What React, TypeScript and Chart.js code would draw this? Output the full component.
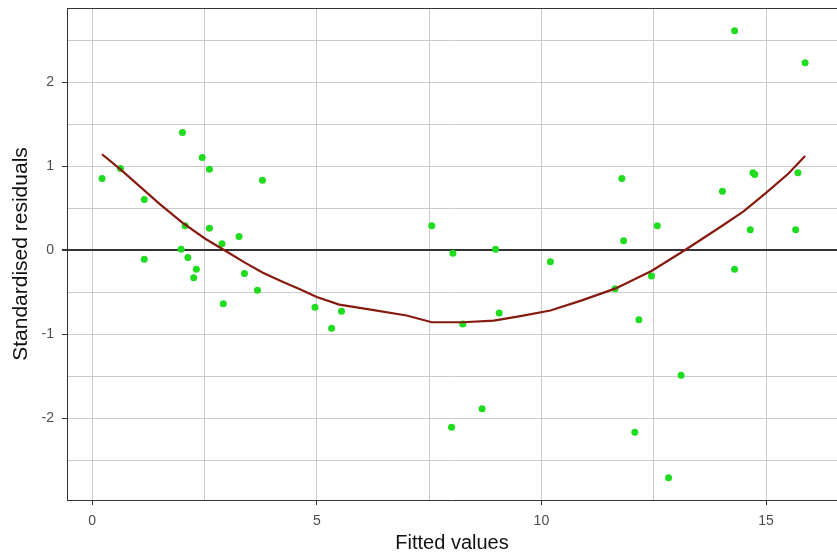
import React, { useEffect, useRef } from "react";
import { Chart, registerables } from "chart.js";

Chart.register(...registerables);

// Observed points: fitted values vs standardised residuals
const fittedX = [
  0.22, 0.63, 1.16, 1.16, 1.98, 2.01, 2.07, 2.13, 2.26, 2.32, 2.45, 2.61,
  2.61, 2.89, 2.92, 3.27, 3.39, 3.68, 3.79, 4.96, 5.33, 5.55, 7.56, 8.0,
  8.03, 8.25, 8.68, 8.98, 9.06, 10.2, 11.64, 11.79, 11.83, 12.08, 12.17,
  12.45, 12.58, 12.83, 13.11, 14.03, 14.3, 14.3, 14.65, 14.71, 14.75, 15.66,
  15.71, 15.87,
];
const stdResid = [
  0.85, 0.97, 0.6, -0.11, 0.01, 1.4, 0.29, -0.09, -0.33, -0.23, 1.1, 0.96,
  0.26, 0.075, -0.64, 0.16, -0.28, -0.48, 0.83, -0.68, -0.93, -0.73, 0.29,
  -2.11, -0.04, -0.88, -1.89, 0.01, -0.75, -0.14, -0.46, 0.85, 0.11, -2.17,
  -0.83, -0.31, 0.29, -2.71, -1.49, 0.7, 2.61, -0.23, 0.24, 0.92, 0.9, 0.24,
  0.92, 2.23,
];

// Smoother curve
const smoothX = [
  0.22, 0.63, 1.16, 1.5, 2.0, 2.5, 3.0, 3.4, 3.8, 4.2, 4.6, 5.0, 5.5, 6.2,
  7.0, 7.56, 8.25, 8.94, 9.5, 10.2, 10.9, 11.64, 12.45, 13.2, 14.0, 14.5,
  15.0, 15.5, 15.87,
];
const smoothY = [
  1.14, 0.96, 0.71, 0.55, 0.33, 0.14, -0.02, -0.15, -0.27, -0.37, -0.46,
  -0.56, -0.65, -0.71, -0.78, -0.86, -0.86, -0.84, -0.79, -0.72, -0.6, -0.46,
  -0.25, 0.0, 0.28, 0.46, 0.68, 0.91, 1.12,
];

const xMajorTicks = [0, 5, 10, 15];
const yMajorTicks = [-2, -1, 0, 1, 2];

const xTitle = "Fitted values";
const yTitle = "Standardised residuals";

export default function App() {
  const ref = useRef<HTMLCanvasElement | null>(null);

  useEffect(() => {
    document.body.style.margin = "0";
    document.body.style.overflow = "hidden";
    const canvas = ref.current;
    if (!canvas) return;

    const topBorder = {
      id: "topBorder",
      afterDraw(chart: any) {
        const { ctx, chartArea } = chart;
        ctx.save();
        ctx.strokeStyle = "#333333";
        ctx.lineWidth = 1;
        ctx.beginPath();
        ctx.moveTo(chartArea.left, chartArea.top + 0.5);
        ctx.lineTo(chart.width, chartArea.top + 0.5);
        ctx.stroke();
        ctx.restore();
      },
    };

    const chart = new Chart(canvas, {
      type: "scatter",
      data: {
        datasets: [
          {
            type: "line",
            data: smoothX.map((x, i) => ({ x, y: smoothY[i] })),
            borderColor: "#861a0e",
            borderWidth: 2.2,
            pointRadius: 0,
            tension: 0,
            fill: false,
          } as any,
          {
            data: fittedX.map((x, i) => ({ x, y: stdResid[i] })),
            backgroundColor: "#1fdc1f",
            borderWidth: 0,
            pointRadius: 3.5,
          },
        ],
      },
      options: {
        responsive: false,
        animation: false,
        layout: { padding: { top: 8, right: 0, left: 0, bottom: 0 } },
        plugins: {
          legend: { display: false },
          tooltip: { enabled: false },
        },
        scales: {
          x: {
            type: "linear",
            min: -0.56,
            max: 16.58,
            afterFit(scale: any) {
              scale.height = 55;
              scale.paddingLeft = 0;
              scale.paddingRight = 0;
            },
            ticks: {
              stepSize: 2.5,
              includeBounds: false,
              autoSkip: false,
              maxRotation: 0,
              padding: 8,
              color: "#4d4d4d",
              font: { family: "Liberation Sans, Arial, sans-serif", size: 14 },
              callback: (v: any) =>
                xMajorTicks.includes(Number(v)) ? String(v) : "",
            },
            grid: {
              color: "#cbcbcb",
              lineWidth: 1,
              tickLength: 5,
              tickColor: (ctx: any) =>
                ctx.tick && xMajorTicks.includes(ctx.tick.value)
                  ? "#333333"
                  : "rgba(0,0,0,0)",
            },
            border: { color: "#333333", width: 1 },
            title: {
              display: true,
              text: xTitle,
              color: "#111111",
              font: { family: "Liberation Sans, Arial, sans-serif", size: 20 },
              padding: { top: 0, bottom: 0 },
            },
          },
          y: {
            type: "linear",
            min: -2.976,
            max: 2.881,
            afterFit(scale: any) {
              scale.width = 67;
              scale.paddingTop = 0;
              scale.paddingBottom = 0;
            },
            ticks: {
              stepSize: 0.5,
              includeBounds: false,
              autoSkip: false,
              padding: 8,
              color: "#4d4d4d",
              font: { family: "Liberation Sans, Arial, sans-serif", size: 14 },
              callback: (v: any) =>
                yMajorTicks.includes(Number(v)) ? String(v) : "",
            },
            grid: {
              color: (ctx: any) =>
                ctx.tick && ctx.tick.value === 0 ? "#333333" : "#cbcbcb",
              lineWidth: (ctx: any) =>
                ctx.tick && ctx.tick.value === 0 ? 2 : 1,
              tickLength: 5,
              tickColor: (ctx: any) =>
                ctx.tick && yMajorTicks.includes(ctx.tick.value)
                  ? "#333333"
                  : "rgba(0,0,0,0)",
            },
            border: { color: "#333333", width: 1 },
            title: {
              display: true,
              text: yTitle,
              color: "#111111",
              font: { family: "Liberation Sans, Arial, sans-serif", size: 21 },
              padding: { top: 9, bottom: 0 },
            },
          },
        },
      },
      plugins: [topBorder],
    });

    return () => chart.destroy();
  }, []);

  return (
    <div style={{ width: 837, height: 555, overflow: "hidden" }}>
      <canvas ref={ref} width={841} height={555} style={{ display: "block" }} />
    </div>
  );
}
